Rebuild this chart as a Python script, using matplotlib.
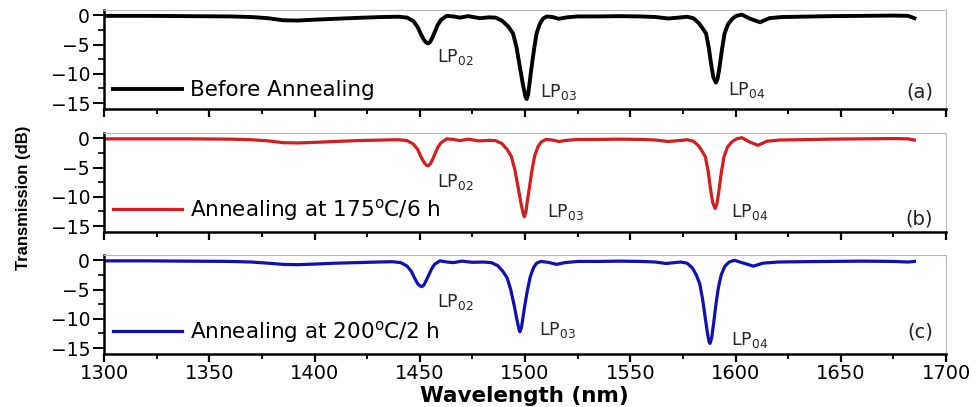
import numpy as np
import matplotlib
matplotlib.use("Agg")
import matplotlib.pyplot as plt
from matplotlib.ticker import MultipleLocator

# ---- data: (wavelength nm, transmission dB) ----
before = [(1300, -0.1), (1320, -0.1), (1340, -0.15), (1360, -0.2), (1370, -0.3), (1378, -0.5),
          (1385, -0.85), (1392, -0.9), (1400, -0.75), (1410, -0.6), (1420, -0.45), (1432, -0.3),
          (1440, -0.25), (1444, -0.4), (1447, -1.0), (1449, -2.0), (1450.5, -3.2), (1452, -4.2),
          (1453.2, -4.7), (1454.1, -4.8), (1455, -4.5), (1456, -3.8), (1457.2, -2.8), (1458.5, -1.7),
          (1460, -0.8), (1462.8, -0.1), (1466, -0.2), (1469, -0.4), (1473, -0.15), (1478.6, -0.5),
          (1483, -0.35), (1486, -0.4), (1489, -0.9), (1492, -1.9), (1494.3, -3.1), (1496, -5.5),
          (1497.6, -8.9), (1499, -11.8), (1500.3, -14.0), (1500.8, -14.3), (1501.5, -13.5),
          (1502.3, -11.2), (1503.1, -8.9), (1504.3, -5.8), (1505.5, -3.1), (1507, -1.5),
          (1508.5, -0.6), (1510.3, -0.2), (1513, -0.3), (1516, -0.6), (1520, -0.35), (1525, -0.2),
          (1535, -0.2), (1545, -0.15), (1555, -0.2), (1562, -0.3), (1568, -0.55), (1573, -0.4),
          (1577, -0.25), (1580, -0.5), (1582.5, -1.3), (1584.5, -2.3), (1586, -3.1), (1587.3, -5.5),
          (1588.4, -8.3), (1589.5, -10.6), (1590.7, -11.5), (1591.5, -10.8), (1592.4, -8.9),
          (1593.6, -5.8), (1594.8, -3.1), (1596.5, -1.5), (1598.5, -0.6), (1600.4, -0.1),
          (1603, 0.1), (1607, -0.6), (1611.7, -1.2), (1616, -0.5), (1622, -0.3), (1630, -0.25),
          (1645, -0.15), (1660, -0.1), (1675, -0.05), (1682, -0.1), (1685, -0.5)]

anneal_175 = [(1300, -0.1), (1320, -0.1), (1340, -0.1), (1360, -0.15), (1370, -0.25), (1378, -0.45),
              (1385, -0.75), (1392, -0.8), (1400, -0.7), (1410, -0.55), (1420, -0.4), (1432, -0.3),
              (1440, -0.25), (1444, -0.4), (1447, -1.0), (1449, -1.9), (1450.5, -3.1), (1452, -4.1),
              (1453.2, -4.6), (1454, -4.7), (1455, -4.4), (1456, -3.7), (1457.2, -2.7), (1458.5, -1.6),
              (1460, -0.8), (1462.8, -0.1), (1466, -0.2), (1469, -0.4), (1473, -0.15), (1478, -0.45),
              (1483, -0.35), (1486, -0.4), (1489, -0.9), (1491.5, -1.9), (1493.5, -3.1), (1495.2, -5.4),
              (1496.8, -8.5), (1498.2, -11.3), (1499.3, -13.1), (1499.7, -13.4), (1500.4, -12.6),
              (1501.2, -10.5), (1502.1, -8.4), (1503.3, -5.5), (1504.6, -3.0), (1506.2, -1.4),
              (1507.8, -0.6), (1510, -0.2), (1513, -0.3), (1516, -0.55), (1520, -0.35), (1525, -0.2),
              (1535, -0.2), (1545, -0.15), (1555, -0.2), (1562, -0.3), (1568, -0.55), (1573, -0.4),
              (1577, -0.25), (1580, -0.5), (1582.5, -1.3), (1584.3, -2.3), (1585.7, -3.2), (1587, -5.6),
              (1588.1, -8.6), (1589.2, -11.0), (1590.3, -12.0), (1591.1, -11.3), (1592, -9.3),
              (1593.2, -6.0), (1594.5, -3.2), (1596.2, -1.5), (1598.3, -0.6), (1600.5, -0.1),
              (1603, 0.1), (1606.5, -0.6), (1610.7, -1.2), (1615, -0.5), (1621, -0.3), (1630, -0.25),
              (1645, -0.15), (1660, -0.1), (1675, -0.05), (1682, -0.1), (1685, -0.3)]

anneal_200 = [(1300, -0.1), (1320, -0.1), (1340, -0.15), (1360, -0.2), (1370, -0.3), (1378, -0.5),
              (1385, -0.7), (1392, -0.75), (1400, -0.65), (1410, -0.5), (1420, -0.4), (1430, -0.3),
              (1437, -0.25), (1441, -0.4), (1444, -1.0), (1446, -1.9), (1447.5, -3.0), (1449, -4.0),
              (1450.2, -4.4), (1451, -4.5), (1452, -4.2), (1453, -3.5), (1454.3, -2.5), (1455.6, -1.5),
              (1457, -0.7), (1459.6, -0.1), (1463, -0.3), (1466, -0.4), (1470, -0.15), (1475, -0.35),
              (1480, -0.3), (1484, -0.4), (1487, -0.9), (1489.5, -1.9), (1491.5, -3.0), (1493.2, -5.0),
              (1494.8, -7.6), (1496.2, -10.2), (1497.2, -11.9), (1497.6, -12.2), (1498.3, -11.5),
              (1499.1, -9.6), (1500, -7.5), (1501.2, -5.0), (1502.5, -2.8), (1504, -1.3), (1505.5, -0.5),
              (1507.5, -0.2), (1511, -0.35), (1515, -0.7), (1519, -0.4), (1525, -0.2), (1535, -0.2),
              (1545, -0.15), (1555, -0.2), (1562, -0.3), (1567, -0.55), (1571, -0.4), (1574, -0.3),
              (1577, -0.5), (1579.5, -1.3), (1581.5, -2.6), (1583, -4.0), (1584.3, -6.5), (1585.5, -9.5),
              (1586.7, -12.5), (1587.5, -14.0), (1587.9, -14.2), (1588.7, -13.2), (1589.6, -10.8),
              (1590.6, -7.8), (1591.8, -4.8), (1593.2, -2.5), (1595, -1.0), (1597, -0.3), (1599.5, 0.0),
              (1603, -0.4), (1608.5, -1.0), (1613, -0.5), (1620, -0.3), (1630, -0.25), (1645, -0.2),
              (1660, -0.15), (1675, -0.2), (1682, -0.3), (1685, -0.2)]

series = [before, anneal_175, anneal_200]
legend_labels = ["Before Annealing", "Annealing at 175$^{\\rm o}$C/6 h", "Annealing at 200$^{\\rm o}$C/2 h"]
panel_tags = ["(a)", "(b)", "(c)"]
colors = ["black", "#d41e1e", "#1010b4"]
line_widths = [2.8, 2.3, 2.3]

# mode labels: (text, x, y baseline) per panel
mode_labels = [
    [("LP$_{02}$", 1458, -7.9), ("LP$_{03}$", 1507, -14.0), ("LP$_{04}$", 1596.6, -13.6)],
    [("LP$_{02}$", 1458, -8.3), ("LP$_{03}$", 1510.3, -13.4), ("LP$_{04}$", 1597.7, -13.4)],
    [("LP$_{02}$", 1458, -8.0), ("LP$_{03}$", 1506.8, -12.8), ("LP$_{04}$", 1598, -14.5)],
]
tag_y = [-13.1, -13.7, -12.2]

plt.rcParams['font.family'] = ['DejaVu Sans']
plt.rcParams['mathtext.fontset'] = 'dejavusans'
plt.rcParams['mathtext.default'] = 'regular'

fig = plt.figure(figsize=(9.76, 4.07), dpi=100)
W, H = 976.0, 407.0
left, right = 104 / W, 946 / W
tops = [10, 133, 255]
ax_h = 99

axes = []
for i in range(3):
    bottom = 1 - (tops[i] + ax_h) / H
    ax = fig.add_axes([left, bottom, right - left, ax_h / H])
    axes.append(ax)
    data = np.array(series[i]).T
    ax.plot(data[0], data[1], color=colors[i], lw=line_widths[i],
            solid_joinstyle='round', label=legend_labels[i])
    ax.set_xlim(1300, 1700)
    ax.set_ylim(-16, 0.9)
    ax.xaxis.set_major_locator(MultipleLocator(50))
    ax.xaxis.set_minor_locator(MultipleLocator(25))
    ax.yaxis.set_major_locator(MultipleLocator(5))
    ax.yaxis.set_minor_locator(MultipleLocator(2.5))
    ax.set_yticks([0, -5, -10, -15])
    ax.tick_params(axis='y', which='major', direction='out', length=8, width=1.4,
                   labelsize=13.5, pad=2)
    ax.tick_params(axis='y', which='minor', direction='out', length=4.5, width=1.2)
    ax.tick_params(axis='x', which='major', direction='out', length=6, width=1.6,
                   labelsize=14, pad=1)
    ax.tick_params(axis='x', which='minor', direction='out', length=3.5, width=1.4)
    ax.tick_params(top=False, right=False)
    if i < 2:
        ax.tick_params(axis='x', labelbottom=False)
    for s in ['left', 'bottom']:
        ax.spines[s].set_linewidth(1.8)
        ax.spines[s].set_color('black')
    for s in ['top', 'right']:
        ax.spines[s].set_linewidth(0.8)
        ax.spines[s].set_color('#b8b8b8')

    for txt, x, y in mode_labels[i]:
        ax.text(x, y, txt, fontsize=12.5, color='#262626', ha='left', va='baseline')
    ax.text(1694, tag_y[i], panel_tags[i], fontsize=14, ha='right', va='center', color='#202020')

    ax.legend(loc='lower left', frameon=False, fontsize=15.5, handlelength=3.2,
              handletextpad=0.4, borderaxespad=0.15, borderpad=0.25)

fig.text(524 / W, 1 - 396 / H, "Wavelength (nm)", ha='center', va='center',
         fontsize=15.5, fontweight='bold')
fig.text(24 / W, 1 - 198 / H, "Transmission (dB)", rotation=90, ha='center', va='center',
         fontsize=12, fontweight='bold', family=['Liberation Sans Narrow', 'Liberation Sans'])

fig.savefig("out.png", dpi=100)
